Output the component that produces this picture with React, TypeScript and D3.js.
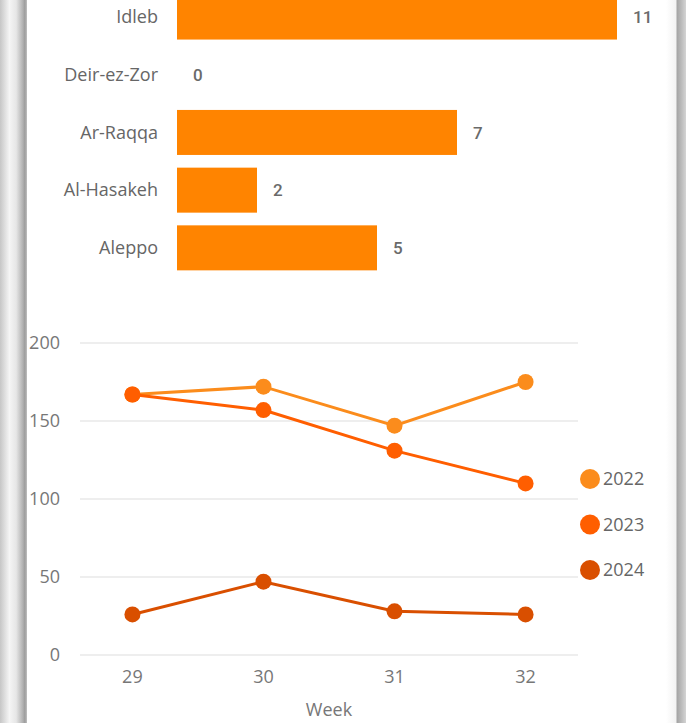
import { useEffect, useRef } from 'react';
import * as d3 from 'd3';

// bar chart (top, partially scrolled out)
const governorates = ['Idleb', 'Deir-ez-Zor', 'Ar-Raqqa', 'Al-Hasakeh', 'Aleppo'];
const govCounts = [11, 0, 7, 2, 5];

// line chart
const weeks = ['29', '30', '31', '32'];
const years = ['2022', '2023', '2024'];
const values2022 = [167, 172, 147, 175];
const values2023 = [167, 157, 131, 110];
const values2024 = [26, 47, 28, 26];
const yTicks = [0, 50, 100, 150, 200];
const yearColors = ['#FB8C1C', '#FF5E00', '#D94F00'];

const W = 686;
const H = 723;
const FONT = '"Open Sans", "Noto Sans", sans-serif';

export default function App() {
  const svgRef = useRef<SVGSVGElement | null>(null);

  useEffect(() => {
    if (!svgRef.current) return;
    const svg = d3.select(svgRef.current);
    svg.selectAll('*').remove();

    // panel edges (shaded borders)
    const defs = svg.append('defs');
    const lg = defs.append('linearGradient').attr('id', 'leftEdge').attr('x1', 0).attr('x2', 1);
    [[0, '#c6c6c6'], [0.35, '#f5f5f5'], [0.6, '#e6e6e6'], [0.85, '#b0b0b0'], [0.92, '#9c9c9c'], [1, '#c0c0c0']]
      .forEach(([o, c]) => lg.append('stop').attr('offset', o as number).attr('stop-color', c as string));
    const rg = defs.append('linearGradient').attr('id', 'rightEdge').attr('x1', 0).attr('x2', 1);
    [[0, '#ffffff'], [0.5, '#f2f2f2'], [0.55, '#a4a4a4'], [0.7, '#b4b4b4'], [1, '#d4d4d4']]
      .forEach(([o, c]) => rg.append('stop').attr('offset', o as number).attr('stop-color', c as string));

    svg.append('rect').attr('width', W).attr('height', H).attr('fill', '#fff');
    svg.append('rect').attr('x', 0).attr('y', 0).attr('width', 27).attr('height', H).attr('fill', 'url(#leftEdge)');
    svg.append('rect').attr('x', 666).attr('y', 0).attr('width', 20).attr('height', H).attr('fill', 'url(#rightEdge)');

    // ---- bar chart ----
    const xBar = d3.scaleLinear().domain([0, 11]).range([177, 617]);
    const yBar = d3.scaleBand<string>()
      .domain(governorates)
      .range([-11.8, 276.7])
      .paddingInner(0.22)
      .paddingOuter(0.11);

    const bars = svg.append('g');
    bars.selectAll('rect')
      .data(governorates)
      .join('rect')
      .attr('x', xBar(0))
      .attr('y', d => yBar(d)!)
      .attr('width', (d, i) => xBar(govCounts[i]) - xBar(0))
      .attr('height', yBar.bandwidth())
      .attr('fill', '#FF8400');

    bars.selectAll('text.cat')
      .data(governorates)
      .join('text')
      .attr('class', 'cat')
      .attr('x', 158)
      .attr('y', d => yBar(d)! + yBar.bandwidth() / 2)
      .attr('dy', '0.35em')
      .attr('text-anchor', 'end')
      .attr('font-family', FONT)
      .attr('font-size', 18)
      .attr('fill', '#666')
      .text(d => d);

    bars.selectAll('text.val')
      .data(governorates)
      .join('text')
      .attr('class', 'val')
      .attr('x', (d, i) => xBar(govCounts[i]) + 16)
      .attr('y', d => yBar(d)! + yBar.bandwidth() / 2)
      .attr('dy', '0.36em')
      .attr('font-family', 'Roboto, sans-serif')
      .attr('font-weight', 500)
      .attr('font-size', 17)
      .attr('fill', '#6a6a6a')
      .text((d, i) => govCounts[i]);

    // ---- line chart ----
    const x = d3.scalePoint<string>().domain(weeks).range([80, 578]).padding(0.4);
    const y = d3.scaleLinear().domain([0, 200]).range([655, 343]);

    const lc = svg.append('g');
    lc.selectAll('line.grid')
      .data(yTicks)
      .join('line')
      .attr('class', 'grid')
      .attr('x1', 80)
      .attr('x2', 578)
      .attr('y1', d => y(d))
      .attr('y2', d => y(d))
      .attr('stroke', '#e8e8e8')
      .attr('stroke-width', 1.3);

    lc.selectAll('text.ytick')
      .data(yTicks)
      .join('text')
      .attr('class', 'ytick')
      .attr('x', 60)
      .attr('y', d => y(d))
      .attr('dy', '0.35em')
      .attr('text-anchor', 'end')
      .attr('font-family', FONT)
      .attr('font-size', 18)
      .attr('fill', '#777')
      .text(d => d);

    lc.selectAll('text.xtick')
      .data(weeks)
      .join('text')
      .attr('class', 'xtick')
      .attr('x', d => x(d)!)
      .attr('y', 677)
      .attr('dy', '0.35em')
      .attr('text-anchor', 'middle')
      .attr('font-family', FONT)
      .attr('font-size', 18)
      .attr('fill', '#777')
      .text(d => d);

    lc.append('text')
      .attr('x', 329)
      .attr('y', 710)
      .attr('dy', '0.35em')
      .attr('text-anchor', 'middle')
      .attr('font-family', FONT)
      .attr('font-size', 18)
      .attr('fill', '#777')
      .text('Week');

    const series = [values2022, values2023, values2024];
    const line = d3.line<number>().x((d, i) => x(weeks[i])!).y(d => y(d));

    series.forEach((vals, si) => {
      const g = lc.append('g');
      g.append('path')
        .attr('d', line(vals))
        .attr('fill', 'none')
        .attr('stroke', yearColors[si])
        .attr('stroke-width', 3);
      g.selectAll('circle')
        .data(vals)
        .join('circle')
        .attr('cx', (d, i) => x(weeks[i])!)
        .attr('cy', d => y(d))
        .attr('r', 8)
        .attr('fill', yearColors[si]);
    });

    // legend
    const legY = d3.scalePoint<string>().domain(years).range([479, 570]);
    const leg = svg.append('g');
    leg.selectAll('circle')
      .data(years)
      .join('circle')
      .attr('cx', 590)
      .attr('cy', d => legY(d)!)
      .attr('r', 10)
      .attr('fill', (d, i) => yearColors[i]);
    leg.selectAll('text')
      .data(years)
      .join('text')
      .attr('x', 603)
      .attr('y', d => legY(d)!)
      .attr('dy', '0.35em')
      .attr('font-family', FONT)
      .attr('font-size', 18)
      .attr('fill', '#666')
      .text(d => d);
  }, []);

  return (
    <svg
      ref={svgRef}
      width={W}
      height={H}
      style={{ position: 'absolute', left: 0, top: 0, display: 'block' }}
    />
  );
}
